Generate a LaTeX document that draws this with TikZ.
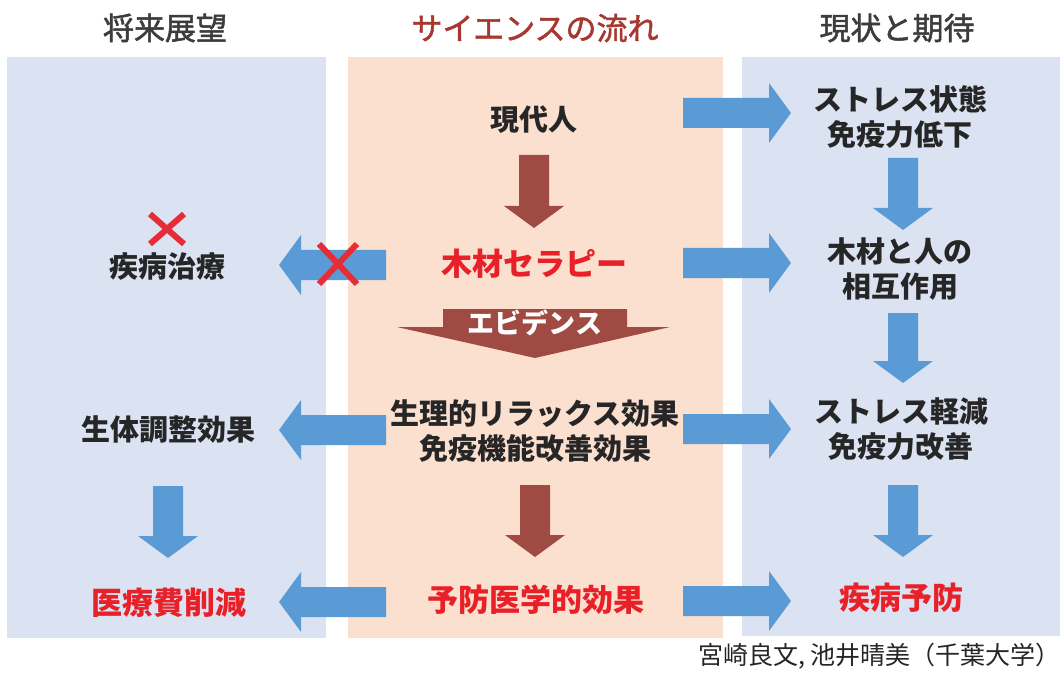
\documentclass[tikz,border=0pt]{standalone}
\usepackage{fontspec}
\usetikzlibrary{calc}
\newfontfamily\jp{Noto Sans CJK JP}
\newfontfamily\jpmed[FakeBold=1.6]{Noto Sans CJK JP}
\definecolor{panelblue}{RGB}{219,227,243}
\definecolor{panelpeach}{RGB}{251,223,207}
\definecolor{arrowblue}{RGB}{91,155,213}
\definecolor{arrowbrown}{RGB}{160,74,68}
\definecolor{headred}{RGB}{166,56,48}
\definecolor{txtred}{RGB}{232,32,40}
\definecolor{txtdark}{RGB}{38,38,38}
\definecolor{xred}{RGB}{230,45,55}
\tikzset{
  blockarrow/.pic={\path[pic actions] (0,-15) -- (#1-22,-15) -- (#1-22,-30) -- (#1,0) -- (#1-22,30) -- (#1-22,15) -- (0,15) -- cycle;},
  bluearrow/.style={fill=arrowblue},
  brownarrow/.style={fill=arrowbrown},
  headtext/.style={font=\jpmed\fontsize{31}{34}\selectfont, text=txtdark!90!white, inner sep=0},
  body/.style={font=\jp\bfseries\fontsize{29}{35}\selectfont, text=txtdark, align=center, inner sep=0},
  keytext/.style={font=\jp\bfseries\fontsize{31}{35}\selectfont, text=txtred, inner sep=0},
  credit/.style={font=\jp\fontsize{25}{28}\selectfont, text=txtdark, inner sep=0},
  xmark/.style={draw=xred, line width=6pt},
}
\begin{document}
\begin{tikzpicture}[x=1pt,y=-1pt]
\useasboundingbox (0,0) rectangle (1063,679);
\fill[white] (0,0) rectangle (1063,679);
% panels
\fill[panelblue] (7,57) rectangle (326,638);
\fill[panelpeach] (348,57) rectangle (723,638);
\fill[panelblue] (742,57) rectangle (1060,636);

% headers
\node[headtext] (h1) at (165,28) {将来展望};
\node[headtext, text=headred] (h2) at (535,28) {サイエンスの流れ};
\node[headtext] (h3) at (897,28) {現状と期待};

% middle column
\node[body] (modern) at (534,120) {現代人};
\node[keytext] (therapy) at (534,264) {木材セラピー};
\node[body] (effects) at (535,431) {生理的リラックス効果\\免疫機能改善効果};
\node[keytext] (prevmed) at (536,600) {予防医学的効果};

% left column
\node[body] (disease) at (167,267) {疾病治療};
\node[body] (bio) at (168,430) {生体調整効果};
\node[keytext] (medcost) at (169,603) {医療費削減};

% right column
\node[body] (stress) at (900,117) {ストレス状態\\免疫力低下};
\node[body] (interact) at (900,269) {木材と人の\\相互作用};
\node[body] (reduce) at (901,429) {ストレス軽減\\免疫力改善};
\node[keytext] (prevent) at (901,598) {疾病予防};

% credit
\node[credit, anchor=east] (cr) at (1061,656) {宮崎良文, 池井晴美（千葉大学）};

% brown arrows
\pic[brownarrow, rotate=-90] at (534,155) {blockarrow=73};
\pic[brownarrow, rotate=-90] at (535,485) {blockarrow=72};
% evidence arrow
\fill[arrowbrown] (443,309) -- (627,309) -- (627,327) -- (670,327) -- (535,358) -- (397,327) -- (443,327) -- cycle;
\node[font=\jp\bfseries\fontsize{27}{30}\selectfont, text=white, inner sep=0] (ev) at (535,323) {エビデンス};

% right arrows
\pic[bluearrow] at (683,113) {blockarrow=108};
\pic[bluearrow] at (683,263) {blockarrow=108};
\pic[bluearrow] at (683,429) {blockarrow=108};
\pic[bluearrow] at (683,601) {blockarrow=108};
% left arrows
\pic[bluearrow, rotate=180] at (386,265) {blockarrow=107};
\pic[bluearrow, rotate=180] at (386,430) {blockarrow=107};
\pic[bluearrow, rotate=180] at (386,602) {blockarrow=107};
% down arrows
\pic[bluearrow, rotate=-90] at (168,486) {blockarrow=72};
\pic[bluearrow, rotate=-90] at (903,158) {blockarrow=72};
\pic[bluearrow, rotate=-90] at (903,313) {blockarrow=70};
\pic[bluearrow, rotate=-90] at (903,485) {blockarrow=72};

% crosses
\coordinate (x1) at (167,229);
\draw[xmark] ($(x1)+(-17,-15)$) -- ($(x1)+(17,15)$);
\draw[xmark] ($(x1)+(-17,15)$) -- ($(x1)+(17,-15)$);
\coordinate (x2) at (338,264);
\draw[xmark] ($(x2)+(-19,-20)$) -- ($(x2)+(19,20)$);
\draw[xmark] ($(x2)+(-19,20)$) -- ($(x2)+(19,-20)$);
\end{tikzpicture}
\end{document}
